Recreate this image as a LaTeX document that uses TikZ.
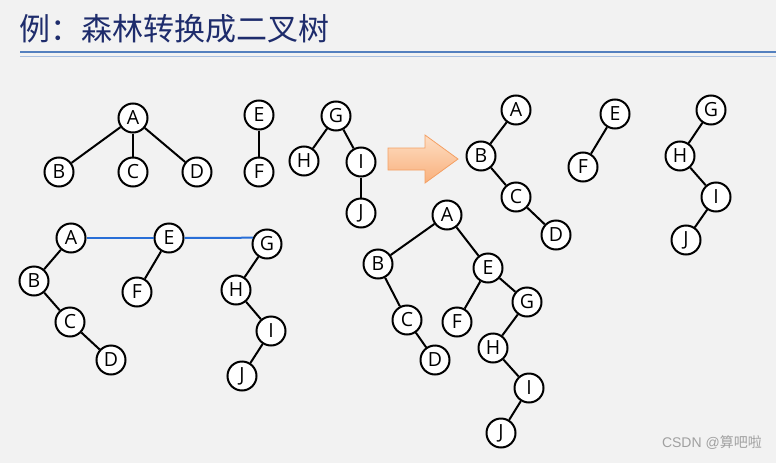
\documentclass[tikz,border=0pt]{standalone}
\usepackage{fontspec}
\setmainfont{Open Sans}
\newfontfamily\cjk{Noto Sans CJK SC}
\newfontfamily\wmfont{Liberation Sans}
\usetikzlibrary{positioning}
\definecolor{titleblue}{RGB}{30,44,108}
\definecolor{rulablue}{RGB}{84,128,190}
\definecolor{rulbblue}{RGB}{170,192,224}
\definecolor{linkblue}{RGB}{40,110,215}
\definecolor{bggray}{RGB}{242,242,242}
\definecolor{arrowedge}{RGB}{244,160,100}
\definecolor{arrowtop}{RGB}{253,222,196}
\definecolor{arrowbot}{RGB}{249,176,124}
\definecolor{wmgray}{RGB}{160,160,160}

\begin{document}
\begin{tikzpicture}[x=1pt, y=-1pt,
        nd/.style={circle, draw=black, fill=white, line width=2pt, minimum size=29pt, inner sep=0pt, font=\fontsize{19.5}{19.5}\selectfont},
        edge/.style={line width=2pt, black},
        link/.style={line width=2pt, linkblue}]
        \fill[bggray] (0,0) rectangle (776,463);
        \useasboundingbox (0,0) rectangle (776,463);
        % title
        \node[anchor=west, inner sep=0pt, text=titleblue, font=\cjk\fontsize{31}{31}\selectfont] (title) at (19,29) {例：森林转换成二叉树};
        \draw[rulablue, line width=2.4pt] (20,52) -- (776,52);
        \draw[rulbblue, line width=1pt] (20,56.5) -- (776,56.5);
        % forest
        \node[nd] (a1) at (133,118) {A};
        \node[nd] (b1) at (59,172) {B};
        \node[nd] (c1) at (133,172) {C};
        \node[nd] (d1) at (197,172) {D};
        \node[nd] (e1) at (259,115) {E};
        \node[nd] (f1) at (259,172) {F};
        \node[nd] (g1) at (336,116) {G};
        \node[nd] (h1) at (304,161) {H};
        \node[nd] (i1) at (361,162) {I};
        \node[nd] (j1) at (361,213) {J};
        \draw[edge] (a1) -- (b1);
        \draw[edge] (a1) -- (c1);
        \draw[edge] (a1) -- (d1);
        \draw[edge] (e1) -- (f1);
        \draw[edge] (g1) -- (h1);
        \draw[edge] (g1) -- (i1);
        \draw[edge] (i1) -- (j1);
        % arrow
        \shade[top color=arrowtop, bottom color=arrowbot, draw=arrowedge, line width=0.8pt]
          (388,148) -- (425,148) -- (425,135) -- (458,159) -- (425,183) -- (425,170) -- (388,170) -- cycle;
        % each tree as binary tree
        \node[nd] (a2) at (516,110) {A};
        \node[nd] (b2) at (481,156) {B};
        \node[nd] (c2) at (516,197) {C};
        \node[nd] (d2) at (556,235) {D};
        \node[nd] (e2) at (615,114) {E};
        \node[nd] (f2) at (583,167) {F};
        \node[nd] (g2) at (711,110) {G};
        \node[nd] (h2) at (680,156) {H};
        \node[nd] (i2) at (716,197) {I};
        \node[nd] (j2) at (686,240) {J};
        \draw[edge] (a2) -- (b2);
        \draw[edge] (b2) -- (c2);
        \draw[edge] (c2) -- (d2);
        \draw[edge] (e2) -- (f2);
        \draw[edge] (g2) -- (h2);
        \draw[edge] (h2) -- (i2);
        \draw[edge] (i2) -- (j2);
        % roots linked
        \node[nd] (a3) at (71,238) {A};
        \node[nd] (b3) at (34,281) {B};
        \node[nd] (c3) at (70,322) {C};
        \node[nd] (d3) at (111,360) {D};
        \node[nd] (e3) at (169,238) {E};
        \node[nd] (f3) at (137,292) {F};
        \node[nd] (g3) at (267,244) {G};
        \node[nd] (h3) at (236,290) {H};
        \node[nd] (i3) at (271,331) {I};
        \node[nd] (j3) at (242,376) {J};
        \draw[link] (a3) -- (e3);
        \draw[link] (e3.east) -- (g3.156);
        \draw[edge] (a3) -- (b3);
        \draw[edge] (b3) -- (c3);
        \draw[edge] (c3) -- (d3);
        \draw[edge] (e3) -- (f3);
        \draw[edge] (g3) -- (h3);
        \draw[edge] (h3) -- (i3);
        \draw[edge] (i3) -- (j3);
        % resulting binary tree
        \node[nd] (a4) at (447,215) {A};
        \node[nd] (b4) at (378,264) {B};
        \node[nd] (c4) at (407,320) {C};
        \node[nd] (d4) at (435,360) {D};
        \node[nd] (e4) at (488,268) {E};
        \node[nd] (f4) at (457,322) {F};
        \node[nd] (g4) at (527,302) {G};
        \node[nd] (h4) at (493,348) {H};
        \node[nd] (i4) at (529,388) {I};
        \node[nd] (j4) at (501,433) {J};
        \draw[edge] (a4) -- (b4);
        \draw[edge] (a4) -- (e4);
        \draw[edge] (b4) -- (c4);
        \draw[edge] (c4) -- (d4);
        \draw[edge] (e4) -- (f4);
        \draw[edge] (e4) -- (g4);
        \draw[edge] (g4) -- (h4);
        \draw[edge] (h4) -- (i4);
        \draw[edge] (i4) -- (j4);
        % watermark
        \node[anchor=east, inner sep=0pt, text=wmgray, font=\wmfont\fontsize{14}{14}\selectfont] (wm) at (762,443) {CSDN @{\cjk 算吧啦}};
      \end{tikzpicture}
\end{document}
